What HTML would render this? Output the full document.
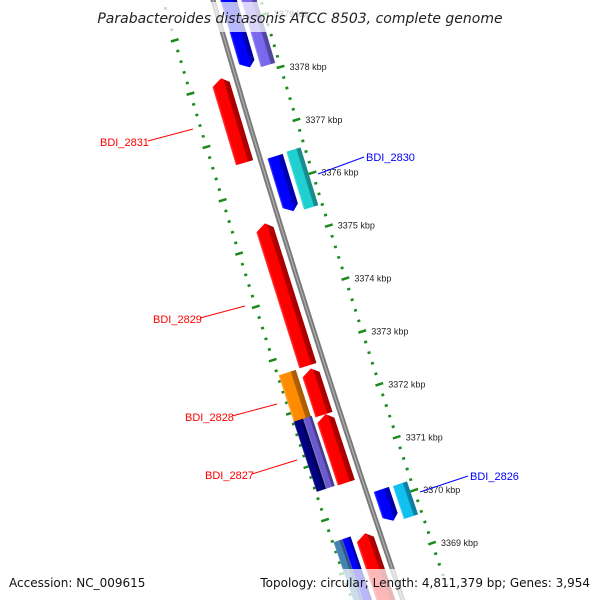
<!DOCTYPE html>
<html><head><meta charset="utf-8"><style>
html,body{margin:0;padding:0;background:#fff;overflow:hidden;width:600px;height:600px;}
svg{display:block;font-family:"Liberation Sans",sans-serif;overflow:hidden;}
</style></head><body>
<svg id="chart" width="600" height="600" viewBox="0 0 600 600" xmlns="http://www.w3.org/2000/svg">
<defs id="defs"><clipPath id="frame"><rect x="0" y="0" width="600" height="600"/></clipPath></defs>
<g clip-path="url(#frame)">
<g id="rings"></g>
<path id="backbone" fill="none" stroke="#7a7a7a" stroke-width="5"/>
<path id="backbone-hl" fill="none" stroke="#b0b0b0" stroke-width="1.2"/>
<g id="genes"></g>
<g id="labels" font-size="11">
  <g><line x1="148" y1="141" x2="193" y2="129" stroke="#f00"/><text x="100" y="146" fill="#f00">BDI_2831</text></g>
  <g><line x1="318" y1="174" x2="364" y2="157" stroke="#00f"/><text x="366" y="161" fill="#00f">BDI_2830</text></g>
  <g><line x1="200" y1="318" x2="245" y2="306" stroke="#f00"/><text x="153" y="323" fill="#f00">BDI_2829</text></g>
  <g><line x1="232" y1="416" x2="277" y2="404" stroke="#f00"/><text x="185" y="421" fill="#f00">BDI_2828</text></g>
  <g><line x1="252" y1="474" x2="297" y2="460" stroke="#f00"/><text x="205" y="479" fill="#f00">BDI_2827</text></g>
  <g><line x1="420" y1="492" x2="468" y2="476" stroke="#00f"/><text x="470" y="480" fill="#00f">BDI_2826</text></g>
</g>
<rect x="0" y="2" width="600" height="30" fill="#fff" opacity="0.72"/>
<text x="300" y="23" text-anchor="middle" font-size="14" font-style="italic" fill="#222" style="font-family:'DejaVu Sans',sans-serif">Parabacteroides distasonis ATCC 8503, complete genome</text>
<rect x="0" y="569" width="600" height="31" fill="#fff" opacity="0.72"/>
<text x="9" y="587" font-size="12" fill="#111" style="font-family:'DejaVu Sans',sans-serif">Accession: NC_009615</text>
<text x="590" y="587" text-anchor="end" font-size="12" fill="#111" style="font-family:'DejaVu Sans',sans-serif">Topology: circular; Length: 4,811,379 bp; Genes: 3,954</text>
</g>
</svg>
<script>
// data
const geneNames = ["A-blue","A-purple","R1","B-blue","B-cyan","R2","R3","orange","R4","navy","purple","C-blue","C-lightblue","R5","steel","blue2"];
const geneStart = [3379.62,3379.51,3378.11,3376.48,3376.50,3375.38,3372.65,3372.71,3371.79,3371.84,3371.84,3370.20,3370.19,3369.55,3369.58,3369.58];
const geneEnd   = [3378.15,3378.10,3376.53,3375.44,3375.41,3372.71,3371.79,3371.80,3370.51,3370.52,3370.52,3369.60,3369.57,3367.91,3368.04,3368.04];
const geneOff1  = [7,27,-25,7,27,-25,-25,-47,-25,-47,-37,7,27,-25,-47,-38];
const geneOff2  = [23,42,-7,23,42,-7,-7,-29,-7,-37,-28,23,42,-7,-38,-29];
const geneColor = ["#0000ff","#7b68ee","#ff0000","#0000ff","#20d0d0","#ff0000","#ff0000","#ff8c00","#ff0000","#000080","#6a5acd","#0000ff","#10c0f0","#ff0000","#4682b4","#0000ff"];
const geneArrow = ["down","none","up","down","none","up","up","none","up","none","none","down","none","up","none","none"];
const tickMajors = [3380,3379,3378,3377,3376,3375,3374,3373,3372,3371,3370,3369,3368,3367];

const NS="http://www.w3.org/2000/svg";
function kToY(k){return 80+(3378-k)*53.1;}
function bx(y){return 213+0.29*y+4.4e-5*y*y;}
function slope(y){return 0.29+8.8e-5*y;}
function pt(y,off){const s=slope(y),L=Math.hypot(1,s);return [bx(y)+off/L, y-off*s/L];}
function mk(tag,attrs,parent){const e=document.createElementNS(NS,tag);for(const k in attrs)e.setAttribute(k,attrs[k]);parent.appendChild(e);return e;}

let d="";for(let y=-20;y<=620;y+=10){d+=(y==-20?"M":"L")+bx(y).toFixed(1)+","+y+" ";}
document.getElementById("backbone").setAttribute("d",d);
document.getElementById("backbone-hl").setAttribute("d",d);

const rings=document.getElementById("rings");
[46,-48].forEach(function(off){
  for(let k=3380;k>=3367;k=Math.round((k-0.2)*10)/10){
    const y=kToY(k); if(y<-20||y>605) continue;
    const major=Math.abs(k-Math.round(k))<1e-6;
    const len=major?8:3;
    const a=pt(y,off-len/2), b=pt(y,off+len/2);
    const t=mk("line",{x1:a[0].toFixed(1),y1:a[1].toFixed(1),x2:b[0].toFixed(1),y2:b[1].toFixed(1),stroke:"#1a8a1a","stroke-width":"2.5"},rings);
    
    
  }
});
tickMajors.forEach(function(k){
  const y=kToY(k); const p=pt(y,46);
  if(p[1]>585||p[1]<0) return;
  const tx=mk("text",{x:(p[0]+9).toFixed(1),y:(p[1]+3).toFixed(1),"font-size":"9",fill:"#222"},rings);
  tx.textContent=k+" kbp";
  
  
});

function shade(hex,f){const n=parseInt(hex.slice(1),16);let r=n>>16,g=(n>>8)&255,b=n&255;
  if(f<0){r*=1+f;g*=1+f;b*=1+f;}else{r+=(255-r)*f;g+=(255-g)*f;b+=(255-b)*f;}
  return "rgb("+Math.round(r)+","+Math.round(g)+","+Math.round(b)+")";}
const defs=document.getElementById("defs"), genes=document.getElementById("genes");
geneNames.forEach(function(nm,i){
  const y1=kToY(geneStart[i]), y2=kToY(geneEnd[i]);
  const ym=(y1+y2)/2, s=slope(ym), L=Math.hypot(1,s);
  const h=(y2-y1)*L/2, o1=geneOff1[i], o2=geneOff2[i];
  const c=pt(ym,0), ang=-Math.atan(s)*180/Math.PI;
  const gid="gr"+i;
  const lg=mk("linearGradient",{id:gid,x1:"0",y1:"0",x2:"1",y2:"0"},defs);
  [[0,shade(geneColor[i],0.25)],[0.12,geneColor[i]],[0.68,geneColor[i]],[0.72,shade(geneColor[i],-0.3)],[1,shade(geneColor[i],-0.35)]].forEach(function(st){mk("stop",{offset:st[0],"stop-color":st[1]},lg);});
  const a=6, m=o1+(o2-o1)*0.6;
  let pts;
  if(geneArrow[i]=="down") pts=[[o1,-h],[o2,-h],[o2,h-a],[m,h],[o1,h-a]];
  else if(geneArrow[i]=="up") pts=[[m,-h],[o2,-h+a],[o2,h],[o1,h],[o1,-h+a]];
  else pts=[[o1,-h],[o2,-h],[o2,h],[o1,h]];
  const g=mk("polygon",{points:pts.map(p=>p[0].toFixed(1)+","+p[1].toFixed(1)).join(" "),fill:"url(#"+gid+")",
    transform:"translate("+c[0].toFixed(1)+","+c[1].toFixed(1)+") rotate("+ang.toFixed(2)+")"},genes);
  
  
});
</script>
</body></html>
